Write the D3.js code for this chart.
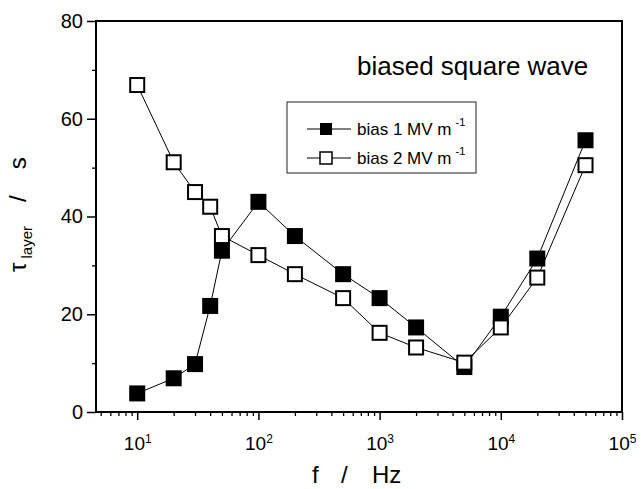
<!DOCTYPE html>
<html>
<head>
	<meta charset="utf-8">
	<title>tau layer vs frequency</title>
	<script type="text/javascript" src="https://cdn.jsdelivr.net/npm/d3@7"></script>
	<style>
		body {
			margin: 0;
			background: #fff;
			font-family: "Liberation Sans", Arial, Helvetica, sans-serif;
		}
	</style>
</head>

<body>

	<div id="chart"></div>

	<script>

		// data

		const freqs  = [10, 20, 30, 40, 50, 100, 200, 500, 1000, 2000, 5000, 10000, 20000, 50000];
		const bias1  = [3.8, 6.9, 9.8, 21.7, 33.0, 43.0, 36.0, 28.2, 23.3, 17.3, 9.2, 19.5, 31.4, 55.6];
		const bias2  = [66.9, 51.1, 45.0, 42.0, 36.0, 32.1, 28.2, 23.3, 16.2, 13.2, 10.1, 17.3, 27.5, 50.5];
		const seriesNames = ["bias 1 MV m", "bias 2 MV m"];
		const yTicks      = [0, 20, 40, 60, 80];
		const yMinorTicks = [10, 30, 50, 70];
		const xExponents  = [1, 2, 3, 4, 5];
		const title       = "biased square wave";

		// layout

		const width  = 643;
		const height = 489;
		const margin = { top: 21, right: 21, bottom: 77, left: 96 };
		const font   = "'Liberation Sans', Arial, Helvetica, sans-serif";

		const x = d3.scaleLog()
			.domain([4.57, 1e5])
			.range([margin.left, width - margin.right]);
		const y = d3.scaleLinear()
			.domain([0, 80])
			.range([height - margin.bottom, margin.top]);

		const svg = d3.select("#chart")
			.append("svg")
			.attr("width", width)
			.attr("height", height)
			.attr("viewBox", [0, 0, width, height])
			.style("font-family", font);

		// minor x ticks: 2..9 in each decade within the domain
		const xMinor = [];
		for (let e = 0; e < 5; e++) {
			for (let m = 2; m <= 9; m++) {
				const v = m * Math.pow(10, e);
				if (v >= x.domain()[0] && v <= x.domain()[1]) xMinor.push(v);
			}
		}

		const xAxisY = height - margin.bottom;

		// x axis, minor ticks
		svg.append("g")
			.attr("transform", `translate(0,${xAxisY})`)
			.call(d3.axisBottom(x).tickValues(xMinor).tickSize(4).tickFormat(""))
			.call(g => g.select(".domain").remove())
			.call(g => g.selectAll(".tick line").attr("stroke", "#000").attr("stroke-width", 1.3));

		// x axis, major ticks with 10^n labels
		svg.append("g")
			.attr("transform", `translate(0,${xAxisY})`)
			.call(d3.axisBottom(x).tickValues(xExponents.map(e => Math.pow(10, e))).tickSize(8).tickPadding(10).tickFormat(""))
			.call(g => g.select(".domain").remove())
			.call(g => g.selectAll(".tick line").attr("stroke", "#000").attr("stroke-width", 1.5))
			.call(g => g.selectAll(".tick text")
				.attr("fill", "#000")
				.style("font-size", "19px")
				.style("font-family", font)
				.attr("dy", "1.05em")
				.each(function(d) {
					const t = d3.select(this);
					t.append("tspan").text("10");
					t.append("tspan")
						.attr("dy", "-0.55em")
						.style("font-size", "12px")
						.text(Math.round(Math.log10(d)));
				}));

		// y axis
		svg.append("g")
			.attr("transform", `translate(${margin.left},0)`)
			.call(d3.axisLeft(y).tickValues(yMinorTicks).tickSize(4).tickFormat(""))
			.call(g => g.select(".domain").remove())
			.call(g => g.selectAll(".tick line").attr("stroke", "#000").attr("stroke-width", 1.3));

		svg.append("g")
			.attr("transform", `translate(${margin.left},0)`)
			.call(d3.axisLeft(y).tickValues(yTicks).tickSize(9).tickPadding(4))
			.call(g => g.select(".domain").remove())
			.call(g => g.selectAll(".tick line").attr("stroke", "#000").attr("stroke-width", 1.5))
			.call(g => g.selectAll(".tick text")
				.attr("fill", "#000")
				.style("font-size", "20px")
				.style("font-family", font));

		// frame
		svg.append("rect")
			.attr("x", x.range()[0])
			.attr("y", y.range()[1])
			.attr("width", x.range()[1] - x.range()[0])
			.attr("height", y.range()[0] - y.range()[1])
			.attr("fill", "none")
			.attr("stroke", "#000")
			.attr("stroke-width", 2);

		// series
		const pts1 = freqs.map((f, i) => [f, bias1[i]]);
		const pts2 = freqs.map((f, i) => [f, bias2[i]]);
		const line = d3.line().x(d => x(d[0])).y(d => y(d[1]));

		svg.append("path").datum(pts1)
			.attr("d", line).attr("fill", "none").attr("stroke", "#000").attr("stroke-width", 1);
		svg.append("path").datum(pts2)
			.attr("d", line).attr("fill", "none").attr("stroke", "#000").attr("stroke-width", 1);

		const sq = 16;
		svg.append("g").selectAll("rect")
			.data(pts1)
			.join("rect")
			.attr("x", d => x(d[0]) - sq / 2)
			.attr("y", d => y(d[1]) - sq / 2)
			.attr("width", sq)
			.attr("height", sq)
			.attr("fill", "#000");

		svg.append("g").selectAll("rect")
			.data(pts2)
			.join("rect")
			.attr("x", d => x(d[0]) - (sq - 2) / 2)
			.attr("y", d => y(d[1]) - (sq - 2) / 2)
			.attr("width", sq - 2)
			.attr("height", sq - 2)
			.attr("fill", "#fff")
			.attr("stroke", "#000")
			.attr("stroke-width", 2);

		// title inside plot
		svg.append("text")
			.attr("x", 357)
			.attr("y", 75)
			.style("font-size", "26px")
			.text(title);

		// legend
		const legend = svg.append("g").attr("transform", "translate(287,102)");
		legend.append("rect")
			.attr("width", 189)
			.attr("height", 71)
			.attr("fill", "#fff")
			.attr("stroke", "#222")
			.attr("stroke-width", 1);

		seriesNames.forEach((name, i) => {
			const row = legend.append("g").attr("transform", `translate(0,${27 + i * 29})`);
			row.append("line").attr("x1", 20).attr("x2", 64).attr("stroke", "#000").attr("stroke-width", 1);
			row.append("rect")
				.attr("x", 33).attr("y", -6).attr("width", 12).attr("height", 12)
				.attr("fill", i === 0 ? "#000" : "#fff")
				.attr("stroke", "#000")
				.attr("stroke-width", i === 0 ? 0 : 1.5);
			const t = row.append("text")
				.attr("x", 70)
				.attr("y", 6)
				.style("font-size", "17px");
			t.append("tspan").text(name);
			t.append("tspan").attr("dx", 4).attr("dy", -9).style("font-size", "11px").text("-1");
		});

		// axis titles
		const xl = svg.append("text")
			.attr("y", 483)
			.style("font-size", "24px");
		xl.append("tspan").attr("x", 312).text("f");
		xl.append("tspan").attr("x", 341).text("/");
		xl.append("tspan").attr("x", 372).text("Hz");

		const yl = svg.append("text")
			.attr("transform", `translate(26,272) rotate(-90)`)
			.style("font-size", "24px");
		yl.append("tspan").text("\u03c4");
		yl.append("tspan").attr("dx", 4).attr("dy", 6).style("font-size", "15px").text("layer");
		yl.append("tspan").attr("dx", 24).attr("dy", -6).text("/");
		yl.append("tspan").attr("dx", 26).text("s");

	</script>

</body>

</html>
